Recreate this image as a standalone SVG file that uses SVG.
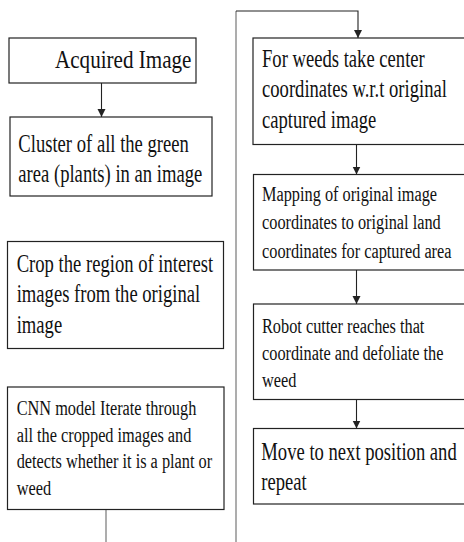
<svg xmlns="http://www.w3.org/2000/svg" width="464" height="542" viewBox="0 0 464 542">
<defs>
<style>
.box{fill:#fff;stroke:#222;stroke-width:1.2}
.t{font-family:"Liberation Serif","DejaVu Serif",serif;fill:#111}
.L{font-size:25px}
.S{font-size:20px}
.c{fill:none;stroke:#222;stroke-width:1.1}
.g{fill:none;stroke:#8a8a8a;stroke-width:1.4}
</style>
<marker id="ah" viewBox="0 0 8 10" refX="8" refY="5" markerWidth="8" markerHeight="10" markerUnits="userSpaceOnUse" orient="auto">
<path d="M0,1 L8,5 L0,9 Z" fill="#222"/>
</marker>
</defs>
<rect width="464" height="542" fill="#fff"/>
<g id="connectors">
<line class="c" x1="101.5" y1="83" x2="101.5" y2="117" marker-end="url(#ah)"/>
<line class="g" x1="106" y1="509.5" x2="106" y2="542"/>
<line class="g" x1="236" y1="11" x2="236" y2="542"/>
<polyline class="c" points="236,11 358,11 358,38" marker-end="url(#ah)"/>
<line class="c" x1="356.5" y1="144.5" x2="356.5" y2="174.5" marker-end="url(#ah)"/>
<line class="c" x1="356.5" y1="270" x2="356.5" y2="304" marker-end="url(#ah)"/>
<line class="c" x1="356.5" y1="399.5" x2="356.5" y2="428.5" marker-end="url(#ah)"/>
</g>
<g id="n1">
<rect class="box" x="9" y="38" width="187" height="45"/>
<text class="t L" transform="translate(55,68) scale(0.844,1)">Acquired Image</text>
</g>
<g id="n2">
<rect class="box" x="10" y="117" width="202" height="79"/>
<text class="t L" transform="translate(18.3,152) scale(0.745,1)">Cluster of all the green</text>
<text class="t L" transform="translate(18.3,181.5) scale(0.745,1)">area (plants) in an image</text>
</g>
<g id="n3">
<rect class="box" x="7.5" y="241.5" width="216" height="107"/>
<text class="t L" transform="translate(16.7,271.5) scale(0.745,1)">Crop the region of interest</text>
<text class="t L" transform="translate(16.7,301.5) scale(0.745,1)">images from the original</text>
<text class="t L" transform="translate(16.7,332.5) scale(0.745,1)">image</text>
</g>
<g id="n4">
<rect class="box" x="7.5" y="387" width="216.5" height="122.5"/>
<text class="t S" transform="translate(16.7,415) scale(0.815,1)">CNN model Iterate through</text>
<text class="t S" transform="translate(16.7,441.7) scale(0.815,1)">all the cropped images and</text>
<text class="t S" transform="translate(16.7,468.3) scale(0.815,1)">detects whether it is a plant or</text>
<text class="t S" transform="translate(16.7,495) scale(0.815,1)">weed</text>
</g>
<g id="n5">
<rect class="box" x="253" y="38" width="212" height="106.5"/>
<text class="t L" transform="translate(262,67) scale(0.745,1)">For weeds take center</text>
<text class="t L" transform="translate(262,97) scale(0.745,1)">coordinates w.r.t original</text>
<text class="t L" transform="translate(262,128) scale(0.745,1)">captured image</text>
</g>
<g id="n6">
<rect class="box" x="253.5" y="174.5" width="211.5" height="95.5"/>
<text class="t S" transform="translate(262,200.5) scale(0.815,1)">Mapping of original image</text>
<text class="t S" transform="translate(262,229) scale(0.815,1)">coordinates to original land</text>
<text class="t S" transform="translate(262,258) scale(0.815,1)">coordinates for captured area</text>
</g>
<g id="n7">
<rect class="box" x="253.5" y="304" width="211.5" height="95.5"/>
<text class="t S" transform="translate(262,332.7) scale(0.815,1)">Robot cutter reaches that</text>
<text class="t S" transform="translate(262,360) scale(0.815,1)">coordinate and defoliate the</text>
<text class="t S" transform="translate(262,387) scale(0.815,1)">weed</text>
</g>
<g id="n8">
<rect class="box" x="253.5" y="428.5" width="211.5" height="75.5"/>
<text class="t L" transform="translate(261.3,460) scale(0.745,1)">Move to next position and</text>
<text class="t L" transform="translate(261.3,490) scale(0.745,1)">repeat</text>
</g>
</svg>
